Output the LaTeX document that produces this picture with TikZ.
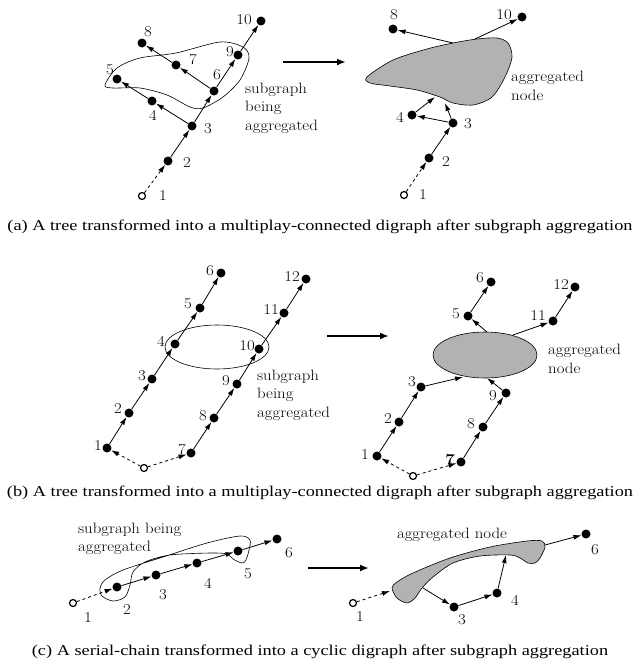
\documentclass[tikz,border=0pt]{standalone}
\usepackage{fontspec}
\setmainfont{Latin Modern Roman}[FakeStretch=1.12]
\usetikzlibrary{arrows.meta}
\newfontfamily\capfont{Liberation Serif}[FakeStretch=1.22]

\begin{document}
\begin{tikzpicture}[x=1pt,y=-1pt,
    every node/.style={font=\fontsize{15}{18.5}\selectfont},
    vtx/.style={circle,fill,inner sep=0pt,minimum size=9pt},
    root/.style={circle,draw,line width=1.2pt,fill=white,inner sep=0pt,minimum size=7pt},
    arr/.style={-{Latex[length=8pt,width=5pt]},line width=0.8pt},
    bigarr/.style={-{Latex[length=9pt,width=7pt]},line width=2.4pt},
    blob/.style={line width=0.6pt},
    txt/.style={align=left,anchor=west,inner sep=0pt},
    captext/.style={font=\capfont\fontsize{15}{17}\selectfont}]
    \useasboundingbox (0,0) rectangle (640,664);

    % (a) tree before aggregation
    \draw[blob] plot[smooth cycle] coordinates {(105,85) (117,68) (140,58) (176,53) (220,42) (243,47) (249,58) (240,80) (223,97) (203,108) (190,107) (167,95) (140,88) (113,88)};
    \node[root] (a1) at (142,196) {};
    \node[vtx] (a2) at (168,161) {};
    \node[vtx] (a3) at (192,126) {};
    \node[vtx] (a4) at (152,101) {};
    \node[vtx] (a5) at (117,79) {};
    \node[vtx] (a6) at (214,91) {};
    \node[vtx] (a7) at (176,65) {};
    \node[vtx] (a8) at (142,43) {};
    \node[vtx] (a9) at (238,55) {};
    \node[vtx] (a10) at (261,21) {};
    \node (la1) at (163,196) {1};
    \node (la2) at (187,163) {2};
    \node (la3) at (208,129) {3};
    \node (la4) at (153,115) {4};
    \node (la5) at (110,70) {5};
    \node (la6) at (217,75) {6};
    \node (la7) at (193,60) {7};
    \node (la8) at (148,32) {8};
    \node (la9) at (230,52) {9};
    \node (la10) at (244,20) {10};
    \draw[arr,dashed] (a1) -- (a2);
    \draw[arr] (a2) edge (a3);
    \draw[arr] (a3) edge (a4) edge (a6);
    \draw[arr] (a4) edge (a5);
    \draw[arr] (a6) edge (a7) edge (a9);
    \draw[arr] (a7) edge (a8);
    \draw[arr] (a9) edge (a10);
    \node[txt] (ta) at (245,108) {subgraph\\being\\aggregated};

    \coordinate (aa0) at (283,62);
    \coordinate (aa1) at (346,62);
    \draw[bigarr] (aa0) -- (aa1);

    % (a) after aggregation
    \draw[blob,fill=black!30] plot[smooth cycle] coordinates {(367,77) (393,60) (427,49) (453,43) (477,39) (497,38) (508,43) (512,57) (505,77) (492,97) (473,105) (453,103) (440,97) (417,90) (390,86) (370,83)};
    \node[root] (ar1) at (404,195) {};
    \node[vtx] (ar2) at (429,158) {};
    \node[vtx] (ar3) at (453,123) {};
    \node[vtx] (ar4) at (412,115) {};
    \node[vtx] (ar8) at (393,29) {};
    \node[vtx] (ar10) at (522,17) {};
    \node (lar1) at (423,195) {1};
    \node (lar2) at (446,162) {2};
    \node (lar3) at (468,124) {3};
    \node (lar4) at (400,117) {4};
    \node (lar8) at (394,15) {8};
    \node (lar10) at (504,15) {10};
    \coordinate (ab8) at (453,43);
    \coordinate (ab10) at (475,39);
    \coordinate (ab4) at (435,97);
    \coordinate (ab3) at (445,103);
    \draw[arr,dashed] (ar1) -- (ar2);
    \draw[arr] (ar2) edge (ar3);
    \draw[arr] (ar3) edge (ar4) edge (ab3);
    \draw[arr] (ar4) edge (ab4);
    \draw[arr] (ab8) -- (ar8);
    \draw[arr] (ab10) -- (ar10);
    \node[txt] (tar) at (511,86) {aggregated\\node};

    \node[captext] (capa) at (320,227) {(a) A tree transformed into a multiplay-connected digraph after subgraph aggregation};

    % (b) two chains before aggregation
    \draw[blob] (217,347) ellipse [x radius=52pt,y radius=22pt];
    \node[root] (b0) at (144,468) {};
    \node[vtx] (b1) at (107,448) {};
    \node[vtx] (b2) at (129,413) {};
    \node[vtx] (b3) at (152,379) {};
    \node[vtx] (b4) at (175,344) {};
    \node[vtx] (b5) at (200,308) {};
    \node[vtx] (b6) at (221,273) {};
    \node[vtx] (b7) at (191,453) {};
    \node[vtx] (b8) at (214,418) {};
    \node[vtx] (b9) at (237,384) {};
    \node[vtx] (b10) at (259,349) {};
    \node[vtx] (b11) at (284,313) {};
    \node[vtx] (b12) at (306,279) {};
    \node (lb1) at (98,446) {1};
    \node (lb2) at (118,409) {2};
    \node (lb3) at (142,376) {3};
    \node (lb4) at (161,341) {4};
    \node (lb5) at (188,304) {5};
    \node (lb6) at (210,271) {6};
    \node (lb7) at (182,450) {7};
    \node (lb8) at (203,416) {8};
    \node (lb9) at (226,381) {9};
    \node (lb10) at (247,346) {10};
    \node (lb11) at (271,310) {11};
    \node (lb12) at (292,277) {12};
    \draw[arr,dashed] (b0) -- (b1);
    \draw[arr,dashed] (b0) -- (b7);
    \draw[arr] (b1) edge (b2);
    \draw[arr] (b2) edge (b3);
    \draw[arr] (b3) edge (b4);
    \draw[arr] (b4) edge (b5);
    \draw[arr] (b5) edge (b6);
    \draw[arr] (b7) edge (b8);
    \draw[arr] (b8) edge (b9);
    \draw[arr] (b9) edge (b10);
    \draw[arr] (b10) edge (b11);
    \draw[arr] (b11) edge (b12);
    \node[txt] (tb) at (257,395) {subgraph\\being\\aggregated};

    \coordinate (ba0) at (327,336);
    \coordinate (ba1) at (389,336);
    \draw[bigarr] (ba0) -- (ba1);

    % (b) after aggregation
    \draw[blob,fill=black!30] (485,355) ellipse [x radius=52pt,y radius=23pt];
    \node[root] (br0) at (413,476) {};
    \node[vtx] (br1) at (377,456) {};
    \node[vtx] (br2) at (399,422) {};
    \node[vtx] (br3) at (421,387) {};
    \node[vtx] (br5) at (468,316) {};
    \node[vtx] (br6) at (491,282) {};
    \node[vtx] (br7) at (461,462) {};
    \node[vtx] (br8) at (483,427) {};
    \node[vtx] (br9) at (506,393) {};
    \node[vtx] (br11) at (553,321) {};
    \node[vtx] (br12) at (575,287) {};
    \node (lbr1) at (365,455) {1};
    \node (lbr2) at (388,419) {2};
    \node (lbr3) at (412,382) {3};
    \node (lbr5) at (456,314) {5};
    \node (lbr6) at (480,278) {6};
    \node (lbr7) at (450,460) {\textbf{7}};
    \node (lbr8) at (471,424) {8};
    \node (lbr9) at (493,396) {9};
    \node (lbr11) at (538,316) {11};
    \node (lbr12) at (561,285) {12};
    \coordinate (bb5) at (487,332);
    \coordinate (bb11) at (513,335);
    \coordinate (bb3) at (463,377);
    \coordinate (bb9) at (487,378);
    \draw[arr,dashed] (br0) -- (br1);
    \draw[arr,dashed] (br0) -- (br7);
    \draw[arr] (br1) edge (br2);
    \draw[arr] (br2) edge (br3);
    \draw[arr] (br3) edge (bb3);
    \draw[arr] (br7) edge (br8);
    \draw[arr] (br8) edge (br9);
    \draw[arr] (br9) edge (bb9);
    \draw[arr] (bb5) -- (br5);
    \draw[arr] (br5) edge (br6);
    \draw[arr] (bb11) -- (br11);
    \draw[arr] (br11) edge (br12);
    \node[txt] (tbr) at (548,359) {aggregated\\node};

    \node[captext] (capb) at (320,493) {(b) A tree transformed into a multiplay-connected digraph after subgraph aggregation};

    % (c) serial chain before aggregation
    \draw[blob] plot[smooth cycle] coordinates {(100,588) (105,580) (123,570) (163,557) (207,543) (240,536) (250,540) (249,550) (246,560) (242,563) (233,559) (227,554) (210,553) (170,555) (145,562) (133,572) (130,585) (125,597) (113,601) (102,596)};
    \node[root] (c1) at (73,603) {};
    \node[vtx] (c2) at (117,587) {};
    \node[vtx] (c3) at (156,575) {};
    \node[vtx] (c4) at (197,563) {};
    \node[vtx] (c5) at (238,551) {};
    \node[vtx] (c6) at (277,539) {};
    \node (lc1) at (88,618) {1};
    \node (lc2) at (127,610) {2};
    \node (lc3) at (163,595) {3};
    \node (lc4) at (208,583) {4};
    \node (lc5) at (248,574) {5};
    \node (lc6) at (289,553) {6};
    \draw[arr,dashed] (c1) -- (c2);
    \draw[arr] (c2) edge (c3);
    \draw[arr] (c3) edge (c4);
    \draw[arr] (c4) edge (c5);
    \draw[arr] (c5) edge (c6);
    \node[txt] (tc) at (78,539) {subgraph being\\aggregated};

    \coordinate (ca0) at (308,568);
    \coordinate (ca1) at (369,568);
    \draw[bigarr] (ca0) -- (ca1);

    % (c) after aggregation
    \draw[blob,fill=black!30] plot[smooth cycle] coordinates {(392,588) (397,582) (413,573) (450,558) (490,547) (527,541) (542,541) (545,547) (540,558) (535,563) (528,563) (520,558) (510,555) (480,556) (453,563) (433,577) (422,588) (415,598) (407,603) (397,598)};
    \node[root] (cr1) at (353,603) {};
    \node[vtx] (cr3) at (454,607) {};
    \node[vtx] (cr4) at (497,593) {};
    \node[vtx] (cr6) at (586,534) {};
    \node (lcr1) at (360,617) {1};
    \node (lcr3) at (462,620) {3};
    \node (lcr4) at (515,600) {4};
    \node (lcr6) at (595,550) {6};
    \coordinate (cb1) at (390,591);
    \coordinate (cb3) at (423,588);
    \coordinate (cb4) at (506,555);
    \coordinate (cb6) at (545,545);
    \draw[arr,dashed] (cr1) -- (cb1);
    \draw[arr] (cb3) -- (cr3);
    \draw[arr] (cr3) edge (cr4);
    \draw[arr] (cr4) edge (cb4);
    \draw[arr] (cb6) -- (cr6);
    \node (tcr) at (452,535) {aggregated node};

    \node[captext] (capc) at (320,652) {(c) A serial-chain transformed into a cyclic digraph after subgraph aggregation};
\end{tikzpicture}
\end{document}
